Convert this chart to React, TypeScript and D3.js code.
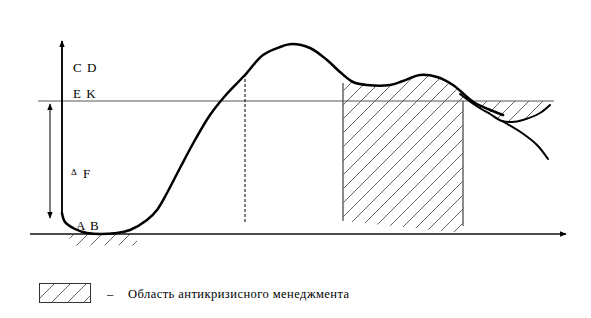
import React from "react";
import * as d3 from "d3";

// Main development curve (time, level)
const mainX = [0, 0.6, 2.6, 5, 11, 13.6, 17, 19, 21, 23.6, 26.6, 29.6, 32.6, 36.6, 40.2, 43.6, 46, 49.6, 53, 55.6, 58.2, 61, 65.6, 68.2, 71.6, 75, 78.2, 81, 82.6, 85.2, 88.2];
const mainY = [10.5, 6, 2.5, 0.5, 0.5, 2, 7, 12, 20.5, 33, 47, 59.5, 69, 79.5, 89.5, 93.5, 95, 93, 87, 81, 76, 74.5, 74.5, 76.5, 79.5, 78.5, 74.5, 68.5, 65.5, 62.5, 59.5];
// Second strand looping back up
const strandX = [79.6, 81.2, 83.2, 85.6, 88, 90, 92.2, 95.6, 97.6];
const strandY = [70, 67, 63.5, 60, 56.5, 56, 57, 60.5, 64.5];
// Descending branch
const descentX = [88, 92, 95, 97.2];
const descentY = [56.5, 50.5, 44.5, 37.5];

// Levels and markers
const levelEK = 66.5;
const axisTop = 96.5;
const deltaF = [65, 8];
const peakMarker = { x: 36.6, y0: 80, y1: 6 };
const crisisZone = [56.2, 80.2];
const crisisBottom = [6.5, 0.5];
const crisisLineTop = 75.5;
const crisisLineBottom = [6.5, 4];
const originHatch = [1.5, 15];
const rightZone = [80.6, 98];

const labels = ["C D", "E K", "F", "A B"];
const legendText = "Область антикризисного менеджмента";

const W = 591;
const H = 318;
const x = d3.scaleLinear().domain([0, 100]).range([62, 562]);
const y = d3.scaleLinear().domain([0, 100]).range([234, 34]);

const zip = (xs: number[], ys: number[]) => xs.map((v, i) => [v, ys[i]] as [number, number]);
const lineGen = d3
  .line<[number, number]>()
  .x((d) => x(d[0]))
  .y((d) => y(d[1]))
  .curve(d3.curveCatmullRom.alpha(0.5));

export default function App() {
  const mainPts = zip(mainX, mainY);
  const strandPts = zip(strandX, strandY);
  const descentPts = zip(descentX, descentY);
  const mainPath = lineGen(mainPts) as string;
  const strandPath = lineGen(strandPts) as string;
  const descentPath = lineGen(descentPts) as string;

  const belowMain = `${mainPath} L${x(mainX[mainX.length - 1])},300 L${x(mainX[0])},300 Z`;
  const aboveStrand = `${strandPath} L${x(strandX[strandX.length - 1])},20 L${x(strandX[0])},20 Z`;

  const zx0 = x(crisisZone[0]);
  const zx1 = x(crisisZone[1]);
  const zonePoly = `M${zx0},40 L${zx1},40 L${zx1},${y(crisisBottom[1])} L${zx0},${y(crisisBottom[0])} Z`;

  const font = "'Liberation Serif', 'Times New Roman', serif";
  const yEK = y(levelEK);

  return (
    <svg width={W} height={H} style={{ position: "absolute", left: 0, top: 0, background: "#fff" }}>
      <defs>
        <pattern id="hatch" patternUnits="userSpaceOnUse" width={14} height={14}>
          <path d="M0,14 L14,0 M-3.5,3.5 L3.5,-3.5 M10.5,17.5 L17.5,10.5" stroke="#555" strokeWidth={0.9} />
        </pattern>
        <pattern id="hatchL" patternUnits="userSpaceOnUse" width={16} height={16} x={2} y={0}>
          <path d="M0,16 L16,0 M-4,4 L4,-4 M12,20 L20,12" stroke="#555" strokeWidth={0.9} />
        </pattern>
        <clipPath id="clipBelowMain">
          <path d={belowMain} />
        </clipPath>
        <clipPath id="clipZone">
          <path d={zonePoly} />
        </clipPath>
        <clipPath id="clipAboveStrand">
          <path d={aboveStrand} />
        </clipPath>
        <marker id="arrowEnd" viewBox="0 0 10 10" refX={9} refY={5} markerWidth={7} markerHeight={7} orient="auto" markerUnits="userSpaceOnUse">
          <path d="M0,1 L10,5 L0,9 Z" fill="#000" />
        </marker>
        <marker id="arrowStart" viewBox="0 0 10 10" refX={1} refY={5} markerWidth={7} markerHeight={7} orient="auto" markerUnits="userSpaceOnUse">
          <path d="M10,1 L0,5 L10,9 Z" fill="#000" />
        </marker>
      </defs>

      {/* crisis management zone hatch */}
      <g clipPath="url(#clipZone)">
        <g clipPath="url(#clipBelowMain)">
          <rect x={zx0} y={40} width={zx1 - zx0} height={200} fill="url(#hatch)" />
        </g>
      </g>
      {/* right hatched region */}
      <g clipPath="url(#clipAboveStrand)">
        <rect x={x(rightZone[0])} y={yEK} width={x(rightZone[1]) - x(rightZone[0])} height={40} fill="url(#hatch)" />
      </g>
      {/* hatch under origin */}
      <rect x={x(originHatch[0])} y={234.5} width={x(originHatch[1]) - x(originHatch[0])} height={11} fill="url(#hatch)" />

      {/* zone borders */}
      <line x1={zx0} x2={zx0} y1={y(crisisLineTop)} y2={y(crisisLineBottom[0])} stroke="#666" strokeWidth={1.5} />
      <line x1={zx1} x2={zx1} y1={yEK} y2={y(crisisLineBottom[1])} stroke="#666" strokeWidth={1.5} />

      {/* E K level */}
      <line x1={38} x2={x(rightZone[1]) + 2} y1={yEK} y2={yEK} stroke="#555" strokeWidth={1} />

      {/* horizontal axis */}
      <line x1={30} x2={566} y1={y(0)} y2={y(0)} stroke="#111" strokeWidth={1.6} markerEnd="url(#arrowEnd)" />
      {/* vertical axis */}
      <line x1={x(0)} x2={x(0)} y1={y(mainY[0])} y2={y(axisTop)} stroke="#111" strokeWidth={2} markerEnd="url(#arrowEnd)" />

      {/* delta F double arrow */}
      <line x1={50} x2={50} y1={y(deltaF[0])} y2={y(deltaF[1])} stroke="#000" strokeWidth={1} markerStart="url(#arrowStart)" markerEnd="url(#arrowEnd)" />

      {/* dashed peak marker */}
      <line x1={x(peakMarker.x)} x2={x(peakMarker.x)} y1={y(peakMarker.y0)} y2={y(peakMarker.y1)} stroke="#000" strokeWidth={1} strokeDasharray="3,2" />

      {/* curves */}
      <path d={mainPath} fill="none" stroke="#000" strokeWidth={2.5} strokeLinejoin="round" strokeLinecap="round" />
      <path d={strandPath} fill="none" stroke="#000" strokeWidth={2} strokeLinecap="round" />
      <path d={descentPath} fill="none" stroke="#000" strokeWidth={2} strokeLinecap="round" />

      {/* labels */}
      <g fontFamily={font} fontSize={13} fill="#000" letterSpacing={1}>
        <text x={73} y={72}>{labels[0]}</text>
        <text x={73} y={98}>{labels[1]}</text>
        <text x={71} y={175} fontSize={9} letterSpacing={0}>Δ</text>
        <text x={83} y={178}>{labels[2]}</text>
        <text x={76} y={230}>{labels[3]}</text>
      </g>

      {/* legend */}
      <rect x={39.5} y={283.5} width={51} height={19} fill="url(#hatchL)" stroke="#333" strokeWidth={1} />
      <text x={107} y={298} fontFamily={font} fontSize={12.5} fill="#000">–</text>
      <text x={128} y={298} fontFamily={font} fontSize={12.5} letterSpacing={0.45} fill="#000">{legendText}</text>
    </svg>
  );
}
